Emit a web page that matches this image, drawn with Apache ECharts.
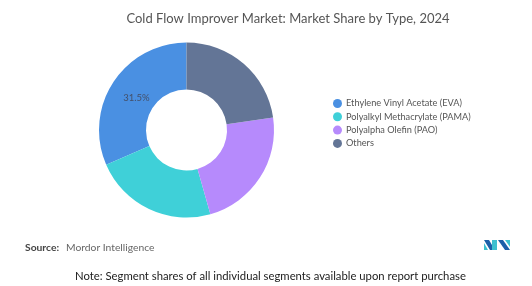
<!DOCTYPE html>
<html>
<head>
<meta charset="utf-8">
<script src="https://cdn.jsdelivr.net/npm/echarts@6/dist/echarts.min.js"></script>
<style>
html,body{margin:0;padding:0;background:#fff;}
#chart{width:532px;height:286px;}
</style>
</head>
<body>
<div id="chart"></div>
<script>
const categories = ["Ethylene Vinyl Acetate (EVA)", "Polyalkyl Methacrylate (PAMA)", "Polyalpha Olefin (PAO)", "Others"];
const shares = [31.5, 22.9, 22.9, 22.7];
const colors = ["#4a90e2", "#3fd0d8", "#b68afc", "#637596"];
const shownLabels = ["31.5%", "", "", ""];

const FONT = "Lato, 'Open Sans', sans-serif";
const chart = echarts.init(document.getElementById('chart'), null, {renderer: 'canvas'});

const data = categories.map((c, i) => ({
  name: c,
  value: shares[i],
  itemStyle: {color: colors[i]},
  label: {show: shownLabels[i] !== "", formatter: shownLabels[i], offset: [6, 5]}
}));

chart.setOption({
  animation: false,
  textStyle: {fontFamily: FONT},
  title: {
    text: "Cold Flow Improver Market: Market Share by Type, 2024",
    left: 283, top: 7, textAlign: 'center',
    textStyle: {fontSize: 13, fontWeight: 'normal', color: '#555', fontFamily: FONT, textShadowColor: 'rgba(85,85,85,0.6)', textShadowBlur: 0, textShadowOffsetX: 0.4}
  },
  legend: {
    orient: 'vertical',
    left: 328, top: 94,
    icon: 'circle',
    itemWidth: 9, itemHeight: 9, itemGap: 4.3,
    textStyle: {fontSize: 9.2, color: '#555', fontFamily: FONT, padding: [0,0,0,-1]},
    data: categories
  },
  series: [{
    type: 'pie',
    center: [186.5, 130],
    radius: [40.5, 87.5],
    startAngle: 90,
    clockwise: false,
    silent: true,
    label: {position: 'inside', color: '#44506a', fontSize: 9.5, fontFamily: FONT},
    labelLine: {show: false},
    itemStyle: {borderWidth: 0},
    data: data
  }],
  graphic: [
    {type: 'text', left: 25, top: 243, style: {text: 'Source:', fontSize: 10.3, fontWeight: 'bold', fill: '#444', fontFamily: FONT}},
    {type: 'text', left: 66, top: 243, style: {text: 'Mordor Intelligence', fontSize: 10.3, fill: '#666', fontFamily: FONT}},
    {type: 'text', left: 75, top: 271, style: {text: 'Note: Segment shares of all individual segments available upon report purchase', fontSize: 11.3, fill: '#222', fontFamily: FONT}},
    {type: 'polygon', shape: {points: [[484,240],[489,240],[495,250],[490,250]]}, style: {fill: '#1b5fa8'}},
    {type: 'polygon', shape: {points: [[484,243],[484,250],[488,250]]}, style: {fill: '#3cc0cf'}},
    {type: 'polygon', shape: {points: [[492,240],[497,240],[497,250],[492,250]]}, style: {fill: '#3cc0cf'}},
    {type: 'polygon', shape: {points: [[498,240],[503,240],[510,250],[505,250]]}, style: {fill: '#1b5fa8'}},
    {type: 'polygon', shape: {points: [[505,240],[510,240],[510,247]]}, style: {fill: '#3cc0cf'}}
  ]
});
</script>
</body>
</html>
